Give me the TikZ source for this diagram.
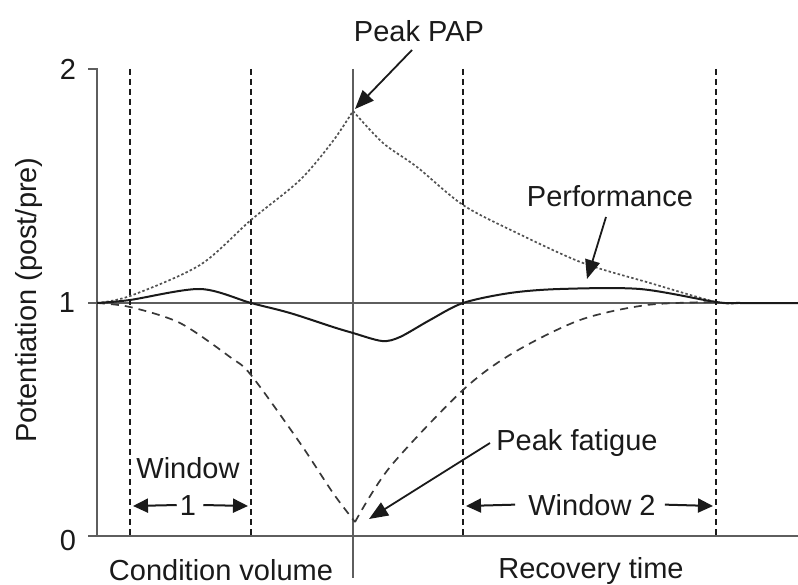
\documentclass[tikz,border=0pt]{standalone}
\usepackage{fontspec}
\setmainfont{Liberation Sans}
\usetikzlibrary{arrows.meta}
\definecolor{axisgray}{HTML}{5E5E5E}
\definecolor{inkc}{HTML}{1A1A1A}
\tikzset{
  axisline/.style={draw=axisgray, line width=2.6pt},
  vdash/.style={draw=inkc, line width=1.6pt, dash pattern=on 6pt off 4pt},
  fatiguec/.style={draw=black!78, line width=1.7pt, dash pattern=on 8pt off 6pt},
  papc/.style={draw=black!68, line width=1.7pt, dash pattern=on 2.5pt off 2.2pt},
  perfc/.style={draw=inkc, line width=2pt},
  callout/.style={draw=inkc, line width=1.8pt, -{Triangle[length=19pt,width=15pt]}},
  winarrow/.style={draw=inkc, line width=2pt, -{Triangle[length=15pt,width=14pt]}},
  lbl/.style={font=\fontsize{29}{34}\selectfont, text=inkc, inner sep=0pt, anchor=base}
}
\begin{document}
\begin{tikzpicture}[x=1pt,y=-1pt]
\useasboundingbox (0,0) rectangle (798,585);
% axes
\draw[axisline] (88,69) -- (97,69) -- (97,536);
\draw[axisline] (88,536) -- (798,536);
\draw[axisline] (88,303) -- (798,303);
\draw[axisline] (353,69) -- (353,578);
% window boundaries
\foreach \xx in {130,251,463,716} \draw[vdash] (\xx,69) -- (\xx,536);
% PAP curve (dotted)
\draw[papc] plot[smooth] coordinates {(97,303) (130,296) (200,265) (251,220) (300,180) (333,141) (353,111)};
\draw[papc] plot[smooth] coordinates {(353,111) (383,143) (417,167) (463,205) (517,233) (583,263) (650,283) (716,302) (740,303)};
% fatigue curve (dashed)
\draw[fatiguec] plot[smooth] coordinates {(97,303) (130,307) (180,323) (230,357) (251,375) (300,443) (333,493) (355,522)};
\draw[fatiguec] plot[smooth] coordinates {(355,522) (390,467) (463,390) (513,353) (580,320) (647,305) (716,302)};
% performance curve (solid)
\draw[perfc] plot[smooth] coordinates {(97,303) (130,300) (200,289) (251,303) (290,313) (333,327) (353,333) (382,341) (400,337) (430,320) (463,303) (510,293) (560,289) (640,289) (716,302) (740,303) (798,303)};
% tick labels
\node[lbl] (t2) at (68,80) {2};
\node[lbl] (t1) at (67,313) {1};
\node[lbl] (t0) at (68,550) {0};
\node[lbl, rotate=90] (ylab) at (36,300) {Potentiation (post/pre)};
% axis labels
\node[lbl] (cv) at (221,580) {Condition volume};
\node[lbl] (rt) at (591,578) {Recovery time};
% callouts
\node[lbl] (pap) at (419,42) {Peak PAP};
\coordinate (papTail) at (412,50);
\coordinate (papTip) at (355,109);
\draw[callout] (papTail) -- (papTip);
\node[lbl] (perf) at (610,207) {Performance};
\coordinate (perfTail) at (606,217);
\coordinate (perfTip) at (587,279);
\draw[callout] (perfTail) -- (perfTip);
\node[lbl] (fat) at (577,450) {Peak fatigue};
\coordinate (fatTail) at (490,443);
\coordinate (fatTip) at (369,519);
\draw[callout] (fatTail) -- (fatTip);
% window 1
\node[lbl] (w1) at (188,478) {Window};
\node[lbl] (w1one) at (188,515) {1};
\coordinate (w1l) at (133,506);
\coordinate (w1r) at (248,506);
\draw[winarrow] ([xshift=-3pt]w1one.west) -- (w1l);
\draw[winarrow] ([xshift=7pt]w1one.east) -- (w1r);
% window 2
\node[lbl] (w2) at (592,515) {Window 2};
\coordinate (w2l) at (466,506);
\coordinate (w2r) at (713,506);
\draw[winarrow] ([xshift=-13pt]w2.west) -- (w2l);
\draw[winarrow] ([xshift=9pt]w2.east) -- (w2r);
\end{tikzpicture}
\end{document}
